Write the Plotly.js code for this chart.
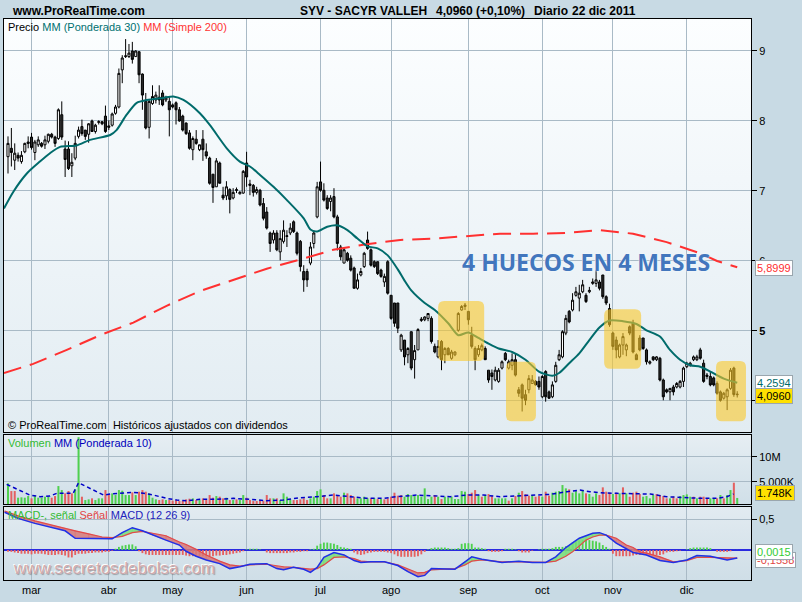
<!DOCTYPE html>
<html><head><meta charset="utf-8">
<script src="https://cdn.plot.ly/plotly-3.0.1.min.js"></script>
<style>html,body{margin:0;padding:0;background:#c8dae4;}#chart{width:802px;height:602px;}</style>
</head><body><div id="chart"></div>
<script>
// ---------- DATA ----------
const monthLabels = ['mar','abr','may','jun','jul','ago','sep','oct','nov','dic'];
const monthStart  = [7,30,49,71,93,114,137,159,180,202];   // trading-day index of first session of each month

const openP = [7.49,7.61,7.44,7.51,7.42,7.56,7.70,7.77,7.55,7.66,
 7.68,7.66,7.71,7.81,7.77,7.75,8.09,7.60,7.60,7.36,
 7.47,7.78,7.92,7.87,7.81,8.00,7.85,7.98,7.99,8.07,
 7.93,7.94,8.11,8.20,8.73,8.92,8.92,9.00,8.92,8.99,
 8.67,8.28,7.91,8.25,8.30,8.34,8.40,8.30,8.28,8.23,
 8.26,8.16,8.07,7.97,7.83,7.59,7.74,7.59,7.74,7.56,
 7.47,7.24,7.06,7.40,6.94,6.93,7.02,6.90,7.02,6.96,
 6.97,7.40,7.10,7.08,6.98,7.01,6.82,6.70,6.40,6.30,
 6.40,6.13,6.28,6.35,6.40,6.56,6.40,6.28,5.85,5.85,
 5.97,6.25,6.63,7.13,7.01,6.90,6.85,6.92,6.63,6.20,
 5.97,6.11,6.04,5.90,5.61,5.80,5.92,6.30,6.16,5.99,
 5.99,5.87,5.70,5.99,5.51,5.40,5.40,4.73,4.87,4.66,
 4.99,4.59,4.73,5.15,5.16,5.18,5.18,4.78,4.63,4.85,
 4.66,4.75,4.61,4.66,5.01,5.30,5.35,5.28,4.94,4.75,
 4.66,4.73,4.75,4.44,4.40,4.30,4.28,4.47,4.68,4.47,
 4.51,4.59,4.16,4.23,4.09,4.16,4.25,4.28,4.28,4.06,
 4.42,4.13,4.06,4.28,4.59,4.63,4.97,5.28,5.30,5.51,
 5.47,5.56,5.51,5.56,5.68,5.68,5.70,5.80,5.49,5.32,
 4.97,4.87,4.63,4.80,4.73,5.06,5.11,4.66,4.90,4.90,
 4.73,4.54,4.63,4.59,4.61,4.30,4.16,4.13,4.20,4.20,
 4.20,4.28,4.49,4.51,4.59,4.59,4.73,4.54,4.35,4.35,
 4.33,4.25,4.13,4.04,4.06,4.18,4.47,4.09];
const highP = [7.78,7.90,7.68,7.55,7.57,7.69,7.78,7.83,7.73,7.78,
 7.70,7.79,7.82,7.83,7.79,8.18,8.28,7.72,7.71,7.54,
 7.79,7.92,8.02,7.87,7.97,8.02,7.96,8.01,8.00,8.22,
 8.01,8.12,8.23,8.75,8.94,9.17,9.10,9.13,9.01,8.99,
 8.68,8.40,8.30,8.51,8.42,8.51,8.44,8.36,8.35,8.25,
 8.28,8.20,8.09,7.98,7.87,7.78,7.87,7.66,7.87,7.68,
 7.49,7.24,7.47,7.42,7.06,7.14,7.04,7.04,7.05,7.00,
 7.30,7.56,7.16,7.10,7.06,7.03,6.90,6.77,6.42,6.44,
 6.44,6.44,6.58,6.44,6.54,6.58,6.42,6.30,5.94,5.89,
 6.27,6.44,7.13,7.42,7.11,6.94,6.94,7.04,6.66,6.23,
 6.20,6.13,6.08,5.92,5.82,5.90,6.13,6.42,6.18,6.01,
 5.99,5.89,5.82,6.01,5.51,5.40,5.40,4.96,4.87,4.77,
 4.99,4.80,5.04,5.20,5.21,5.25,5.21,4.82,4.87,4.87,
 4.77,4.77,4.73,4.71,5.27,5.37,5.40,5.28,5.06,4.78,
 4.80,4.82,4.78,4.44,4.45,4.49,4.47,4.58,4.70,4.59,
 4.68,4.68,4.20,4.25,4.16,4.37,4.37,4.30,4.35,4.37,
 4.44,4.15,4.28,4.56,4.73,5.01,5.23,5.30,5.54,5.63,
 5.66,5.73,5.54,5.63,5.75,5.87,5.73,5.80,5.51,5.39,
 4.99,4.92,4.82,4.97,4.82,5.08,5.16,4.68,4.94,4.90,
 4.75,4.58,4.64,4.64,4.63,4.32,4.18,4.18,4.23,4.27,
 4.30,4.49,4.56,4.56,4.65,4.66,4.76,4.59,4.40,4.42,
 4.35,4.28,4.15,4.13,4.18,4.47,4.49,4.14];
const lowP = [7.25,7.35,7.30,7.42,7.39,7.54,7.61,7.59,7.44,7.63,
 7.62,7.60,7.68,7.75,7.63,7.73,7.73,7.20,7.30,7.20,
 7.44,7.75,7.79,7.73,7.69,7.85,7.82,7.95,7.94,7.83,
 7.87,7.92,8.09,8.18,8.54,8.90,8.90,8.82,8.92,8.54,
 8.16,7.88,7.75,8.23,8.25,8.23,8.21,8.27,7.78,8.18,
 7.95,7.99,7.85,7.80,7.59,7.44,7.66,7.57,7.43,7.46,
 7.09,6.83,7.06,7.11,6.87,6.87,6.68,6.88,6.97,6.95,
 6.96,7.06,6.94,6.92,6.95,6.78,6.58,6.45,6.13,6.25,
 6.14,6.01,6.25,6.20,6.37,6.40,6.08,5.85,5.56,5.63,
 5.94,6.18,6.61,6.99,6.85,6.73,6.71,6.61,6.15,6.01,
 5.97,5.99,5.85,5.61,5.59,5.78,5.90,6.16,5.92,5.90,
 5.80,5.76,5.63,5.52,5.16,5.06,4.97,4.70,4.51,4.54,
 4.44,4.32,4.73,5.13,5.14,5.14,4.82,4.68,4.61,4.44,
 4.54,4.66,4.59,4.64,4.99,5.29,5.30,5.09,4.75,4.44,
 4.63,4.71,4.59,4.26,4.16,4.28,4.26,4.45,4.57,4.45,
 4.44,4.35,4.06,3.85,3.94,4.11,4.25,4.22,4.16,4.04,
 3.99,4.03,4.04,4.26,4.57,4.61,4.94,5.11,5.28,5.49,
 5.28,5.54,5.40,5.54,5.66,5.63,5.58,5.46,5.37,5.06,
 4.73,4.61,4.61,4.66,4.64,4.94,4.68,4.59,4.71,4.73,
 4.52,4.52,4.57,4.57,4.28,4.01,4.11,4.01,4.08,4.18,
 4.18,4.20,4.47,4.49,4.57,4.57,4.59,4.26,4.31,4.21,
 4.21,4.09,3.99,4.02,3.87,4.16,4.06,4.05];
const closeP = [7.68,7.55,7.54,7.47,7.51,7.68,7.68,7.62,7.70,7.73,
 7.64,7.73,7.81,7.77,7.68,8.16,7.77,7.45,7.32,7.41,
 7.68,7.87,7.82,7.78,7.96,7.85,7.94,7.99,7.96,7.85,
 7.91,8.10,8.20,8.68,8.90,8.93,8.97,8.88,9.00,8.66,
 8.37,7.90,8.28,8.35,8.37,8.30,8.23,8.33,8.16,8.20,
 8.16,8.00,7.87,7.82,7.61,7.75,7.68,7.66,7.59,7.50,
 7.11,7.05,7.43,7.11,6.90,7.06,6.88,6.98,7.01,6.98,
 7.28,7.20,7.08,6.98,7.02,6.80,6.61,6.47,6.25,6.40,
 6.16,6.32,6.44,6.36,6.47,6.42,6.11,5.92,5.73,5.73,
 6.20,6.40,7.06,7.01,6.87,6.75,6.90,6.63,6.25,6.06,
 6.16,6.01,5.87,5.61,5.73,5.85,6.11,6.18,5.94,5.92,
 5.82,5.78,5.78,5.54,5.18,5.11,5.04,4.94,4.63,4.75,
 4.47,4.72,5.02,5.17,5.20,5.25,4.85,4.70,4.78,4.59,
 4.75,4.66,4.70,4.70,5.25,5.35,5.37,5.16,4.78,4.59,
 4.75,4.79,4.59,4.30,4.35,4.44,4.44,4.56,4.59,4.56,
 4.59,4.37,4.11,4.04,4.01,4.32,4.30,4.23,4.20,4.35,
 4.06,4.04,4.23,4.51,4.66,4.99,5.18,5.13,5.44,5.56,
 5.54,5.66,5.42,5.58,5.70,5.73,5.61,5.49,5.40,5.09,
 4.78,4.73,4.80,4.92,4.80,4.97,4.70,4.59,4.73,4.75,
 4.56,4.56,4.59,4.63,4.30,4.06,4.13,4.18,4.13,4.25,
 4.28,4.47,4.54,4.54,4.63,4.63,4.61,4.28,4.37,4.23,
 4.23,4.11,4.01,4.11,4.16,4.44,4.092,4.096];

// moving averages on price (sampled along the drawn lines)
const mm30Idx = [-1.2,1.6,5.6,9.5,12.5,15.5,20.4,24.4,30.4,32.3,35.3,38.3,41.3,46.2,49.2,52.2,57.1,60.1,65.1,69,72,75,79,83,88,90,92,95,98,101,104,107,110,113,116,118,120,124,127,131,134,137,140,143,146,150,154,158,162,164,167,170,173,176,179,183,187,190,194,197,200,203,206,209,213,217];
const mm30Val = [6.75,6.99,7.25,7.42,7.54,7.63,7.65,7.73,7.80,7.87,8.09,8.26,8.30,8.33,8.35,8.30,8.11,7.94,7.61,7.42,7.35,7.23,7.06,6.87,6.61,6.45,6.42,6.49,6.51,6.44,6.32,6.21,6.18,6.08,5.88,5.72,5.58,5.40,5.30,5.11,4.94,4.98,4.90,4.82,4.75,4.70,4.59,4.42,4.36,4.40,4.54,4.68,4.87,5.05,5.15,5.14,5.10,5.01,4.92,4.73,4.59,4.51,4.49,4.42,4.32,4.26];
const mm200Idx = [-1.2,7.5,17.5,27.4,37.3,47.2,57.1,67.1,77,86.9,96.8,106.7,116.7,126.6,136.5,146.4,156.3,166.2,176.2,181.1,186,196,206,211,217];
const mm200Val = [4.40,4.53,4.73,4.94,5.12,5.36,5.57,5.73,5.89,6.02,6.16,6.24,6.30,6.32,6.35,6.39,6.39,6.40,6.44,6.42,6.39,6.27,6.11,6.00,5.91];

// volume (millions) and up/down colour code per session
const volume = [4.67,3.13,3.13,1.8,1.87,1.8,2.13,1.67,2.13,1.8,
 1.8,2.0,2.0,1.8,2.13,4.13,3.33,2.67,3.13,2.67,
 3.47,13.9,2.0,1.33,1.47,1.67,1.33,1.67,1.67,3.33,
 2.33,2.67,2.33,3.33,3.2,2.33,2.33,2.87,2.33,3.0,
 3.33,3.0,2.67,1.8,1.47,1.33,1.47,1.33,1.33,1.2,
 1.33,1.13,1.2,1.47,1.6,1.67,1.33,1.33,1.67,1.33,
 2.33,1.8,2.13,2.0,1.67,1.8,1.33,1.33,1.47,1.33,
 2.33,1.8,1.33,1.13,1.13,1.33,1.2,2.33,1.67,1.67,
 1.67,1.33,2.67,2.0,1.47,1.33,1.33,1.47,1.67,1.33,
 1.67,2.0,3.13,3.47,2.33,1.67,1.67,2.67,2.2,2.0,
 2.8,2.67,2.33,2.0,1.67,1.67,2.0,1.67,1.67,1.67,
 1.53,1.53,1.47,1.67,2.0,2.8,2.2,2.33,2.0,2.53,
 2.33,2.13,2.33,2.0,3.67,1.53,2.0,2.33,2.0,1.53,
 2.0,1.87,2.0,1.53,1.53,3.13,3.0,2.53,2.8,3.33,
 2.33,2.0,2.33,2.53,2.13,1.67,1.67,1.67,1.67,1.2,
 1.67,2.13,2.8,3.13,2.53,2.2,2.33,2.0,2.13,2.0,
 3.0,2.2,2.8,3.0,3.13,4.33,3.67,3.47,2.8,3.13,
 2.67,3.33,2.67,2.53,2.0,2.67,2.33,3.87,3.0,2.8,
 2.53,2.8,2.67,3.87,2.67,2.0,2.8,3.0,2.53,2.0,
 2.13,1.67,2.33,2.53,2.33,2.13,1.67,1.67,2.0,1.67,
 2.13,2.33,2.47,2.0,2.0,1.67,2.0,2.0,1.67,1.67,
 1.67,1.67,2.33,1.67,2.33,3.33,4.8,1.748];
const volDir = 'GRRGGGGRGG'+'GGGRRGGRRR'+'GGRGGRGGGR'+'RGGGGGGRGR'+'RRGGGRRGRR'+
               'RRRRRGRGRR'+'RRGRRGRGRG'+'GRRRRRRRRG'+'RGGGGRRRRR'+'GGGGRRGRRR'+
               'GRRRGGGGRG'+'RGRRRRRRGG'+'GGGGGGGRGR'+'GGGGGGGRRR'+'GRGRRGGGGR'+
               'GRGRRRGRRG'+'RRGGGGGRGG'+'GGRGGGRRRR'+'GRGRGRRRRG'+'GGGRRRRGRR'+
               'GGGGRGRRRG'+'GRGRGGRG';
const volMaIdx = [-0.4,6.5,9.5,12.5,14.5,19.4,21,23.4,26.4,28.4,30.4,34.3,37.3,40.3,43.3,47.2,50.2,53.2,57.1,62.1,67.1,72,77,81.9,86.9,91.9,96.8,101.8,106.7,111.7,115.7,121.6,126.6,131.6,136.5,141.5,146.4,151.4,156.4,161.3,166.3,170.2,173.2,176.2,181.2,186.1,191.1,196,201,206,211,213.9,215.9];
const volMaVal = [4.47,2.33,2.0,2.13,2.67,2.67,4.8,4.0,3.0,2.33,2.53,2.8,2.87,2.67,2.33,1.67,1.33,1.2,1.47,1.47,1.67,1.47,1.2,1.33,1.8,2.0,2.33,2.0,1.67,1.67,2.0,2.33,2.2,2.0,2.33,2.33,2.0,2.13,2.2,2.47,3.0,3.33,3.0,2.8,2.67,2.67,2.53,2.0,1.8,1.67,1.67,2.0,2.53];

// MACD (12 26 9)
const macdIdx = [-1,3,8,13,17,20,24,28,31,34,37,40,43,47,51,53,56,59,63,66,69,72,77,80,82,85,88,90,92,94,97,100,103,105,108,112,116,119,122,124,126,130,133,136,138,141,144,147,152,156,160,163,166,168,170,172,174,176,178,181,184,186,188,190,194,198,202,205,209,214,217];
const macdVal = [0.61,0.51,0.43,0.37,0.31,0.19,0.19,0.19,0.18,0.28,0.36,0.31,0.24,0.16,0.08,-0.02,-0.10,-0.16,-0.22,-0.30,-0.27,-0.23,-0.22,-0.30,-0.32,-0.28,-0.31,-0.36,-0.28,-0.12,-0.04,-0.08,-0.17,-0.20,-0.19,-0.19,-0.25,-0.35,-0.43,-0.41,-0.30,-0.31,-0.31,-0.19,-0.11,-0.15,-0.17,-0.20,-0.18,-0.20,-0.20,-0.11,0.04,0.12,0.19,0.23,0.27,0.28,0.24,0.11,0.02,-0.04,-0.06,-0.08,-0.17,-0.20,-0.16,-0.09,-0.10,-0.16,-0.13];
const signalVal = [0.63,0.55,0.47,0.40,0.35,0.31,0.26,0.21,0.20,0.22,0.28,0.30,0.27,0.23,0.13,0.09,0.01,-0.08,-0.18,-0.24,-0.26,-0.24,-0.23,-0.26,-0.27,-0.28,-0.30,-0.31,-0.30,-0.24,-0.12,-0.11,-0.14,-0.18,-0.19,-0.19,-0.24,-0.31,-0.37,-0.36,-0.32,-0.31,-0.30,-0.24,-0.18,-0.16,-0.18,-0.19,-0.19,-0.19,-0.20,-0.18,-0.10,-0.03,0.06,0.16,0.21,0.24,0.24,0.19,0.08,0.04,-0.03,-0.05,-0.11,-0.19,-0.17,-0.12,-0.12,-0.13,-0.13];
const histVal = [-0.03,-0.03,-0.04,-0.05,-0.06,-0.06,-0.06,-0.07,-0.06,-0.06,
 -0.06,-0.07,-0.08,-0.08,-0.08,-0.07,-0.08,-0.09,-0.12,-0.12,
 -0.08,-0.06,-0.06,-0.06,-0.05,-0.05,-0.04,-0.04,-0.04,-0.03,
 -0.03,-0.01,0.02,0.05,0.07,0.08,0.09,0.09,0.06,-0.02,
 -0.05,-0.07,-0.08,-0.08,-0.08,-0.08,-0.08,-0.08,-0.08,-0.08,
 -0.08,-0.08,-0.08,-0.09,-0.10,-0.10,-0.10,-0.10,-0.10,-0.10,
 -0.10,-0.10,-0.09,-0.09,-0.08,-0.08,-0.07,-0.06,-0.05,-0.04,
 -0.02,0.01,0.02,0.02,0.02,0.01,0.0,-0.04,-0.05,-0.05,
 -0.05,-0.05,-0.05,-0.05,-0.04,-0.04,-0.03,-0.03,-0.02,-0.02,
 0.01,0.02,0.07,0.10,0.12,0.12,0.11,0.10,0.08,0.05,
 0.04,0.03,0.02,-0.04,-0.07,-0.08,-0.07,-0.05,-0.04,-0.03,
 -0.03,-0.03,-0.03,-0.04,-0.05,-0.07,-0.10,-0.11,-0.11,-0.11,
 -0.11,-0.11,-0.10,-0.07,-0.03,0.01,0.03,0.04,0.04,0.04,
 0.04,0.03,0.02,0.02,0.03,0.10,0.11,0.11,0.10,0.04,
 0.04,0.03,0.02,-0.02,-0.03,-0.03,-0.03,-0.02,0.02,0.02,
 0.02,0.01,-0.02,-0.04,-0.04,-0.04,-0.01,0.0,0.01,0.02,
 0.02,0.02,0.03,0.05,0.05,0.05,0.06,0.08,0.12,0.14,
 0.15,0.16,0.16,0.16,0.15,0.14,0.12,0.08,0.05,0.02,
 -0.06,-0.10,-0.10,-0.10,-0.10,-0.10,-0.09,-0.08,-0.08,-0.08,
 -0.08,-0.08,-0.08,-0.08,-0.08,-0.07,-0.04,-0.03,-0.03,-0.02,
 -0.01,0.0,0.01,0.03,0.04,0.04,0.04,0.04,0.04,0.03,
 0.0,-0.03,-0.03,-0.03,-0.03,-0.02,0.001,0.0015];

// ---------- DRAWING ----------
const W = 802, H = 602;
const px = x => x / W, py = y => 1 - y / H;
const days = closeP.map((_, k) => k);
const FONT = 'Liberation Sans, Arial, sans-serif';
const GRID = '#a9bac6';

function grad(top, bottom) {
  const svg = '<svg xmlns="http://www.w3.org/2000/svg" width="10" height="100" preserveAspectRatio="none">' +
    '<defs><linearGradient id="g" x1="0" y1="0" x2="0" y2="1"><stop offset="0" stop-color="' + top +
    '"/><stop offset="1" stop-color="' + bottom + '"/></linearGradient></defs>' +
    '<rect width="10" height="100" fill="url(#g)"/></svg>';
  return 'data:image/svg+xml;charset=utf-8,' + encodeURIComponent(svg);
}
function bg(src, x0, y0, x1, y1) {
  return {source: src, xref: 'paper', yref: 'paper', x: px(x0), y: py(y0), sizex: (x1 - x0) / W, sizey: (y1 - y0) / H,
          xanchor: 'left', yanchor: 'top', sizing: 'stretch', layer: 'below'};
}

// MACD/signal band fill split by sign
const gPoly = {x: [], y: []}, rPoly = {x: [], y: []};
function addPoly(o, xs, ys) { o.x.push(...xs, xs[0], null); o.y.push(...ys, ys[0], null); }
for (let k = 0; k < macdIdx.length - 1; k++) {
  const x0 = macdIdx[k], x1 = macdIdx[k + 1];
  const m0 = macdVal[k], m1 = macdVal[k + 1], s0 = signalVal[k], s1 = signalVal[k + 1];
  const d0 = m0 - s0, d1 = m1 - s1;
  if (d0 * d1 < 0) {
    const t = d0 / (d0 - d1), xc = x0 + t * (x1 - x0), yc = m0 + t * (m1 - m0);
    addPoly(d0 > 0 ? gPoly : rPoly, [x0, xc, x0], [m0, yc, s0]);
    addPoly(d1 > 0 ? gPoly : rPoly, [xc, x1, x1], [yc, m1, s1]);
  } else {
    addPoly((d0 + d1) >= 0 ? gPoly : rPoly, [x0, x1, x1, x0], [m0, m1, s1, s0]);
  }
}

const traces = [
  {type: 'candlestick', x: days, open: openP, high: highP, low: lowP, close: closeP, xaxis: 'x', yaxis: 'y',
   increasing: {line: {color: '#000', width: 1}, fillcolor: '#ffffff'},
   decreasing: {line: {color: '#000', width: 1}, fillcolor: '#2a2a2a'},
   whiskerwidth: 0, hoverinfo: 'skip', showlegend: false},
  {type: 'scatter', mode: 'lines', x: mm200Idx, y: mm200Val, xaxis: 'x', yaxis: 'y',
   line: {color: '#ff3030', width: 2, dash: '18px,9px'}, hoverinfo: 'skip', showlegend: false},
  {type: 'scatter', mode: 'lines', x: mm30Idx, y: mm30Val, xaxis: 'x', yaxis: 'y',
   line: {color: '#006b6b', width: 2, shape: 'spline', smoothing: 0.7}, hoverinfo: 'skip', showlegend: false},

  {type: 'bar', x: days, y: volume, xaxis: 'x2', yaxis: 'y2', width: 0.6,
   marker: {color: volume.map((_, k) => volDir[k] === 'G' ? '#4fd04f' : '#e46060'), line: {width: 0}},
   hoverinfo: 'skip', showlegend: false},
  {type: 'scatter', mode: 'lines', x: volMaIdx, y: volMaVal, xaxis: 'x2', yaxis: 'y2',
   line: {color: '#0000c8', width: 1.5, dash: '4px,3px'}, hoverinfo: 'skip', showlegend: false},

  {type: 'bar', x: days, y: histVal, xaxis: 'x3', yaxis: 'y3', width: 0.55,
   marker: {color: histVal.map(v => v >= 0 ? '#4fd04f' : '#e46060'), line: {width: 0}},
   hoverinfo: 'skip', showlegend: false},
  {type: 'scatter', mode: 'lines', x: gPoly.x, y: gPoly.y, xaxis: 'x3', yaxis: 'y3', fill: 'toself',
   fillcolor: 'rgba(120,222,120,0.85)', line: {width: 0.5, color: 'rgba(120,222,120,0.85)'}, hoverinfo: 'skip', showlegend: false},
  {type: 'scatter', mode: 'lines', x: rPoly.x, y: rPoly.y, xaxis: 'x3', yaxis: 'y3', fill: 'toself',
   fillcolor: 'rgba(214,120,120,0.85)', line: {width: 0.5, color: 'rgba(214,120,120,0.85)'}, hoverinfo: 'skip', showlegend: false},
  {type: 'scatter', mode: 'lines', x: macdIdx, y: signalVal, xaxis: 'x3', yaxis: 'y3',
   line: {color: '#e24a4a', width: 1.2}, hoverinfo: 'skip', showlegend: false},
  {type: 'scatter', mode: 'lines', x: macdIdx, y: macdVal, xaxis: 'x3', yaxis: 'y3',
   line: {color: '#2030e8', width: 1.5}, hoverinfo: 'skip', showlegend: false}
];

const xr = [-1.19, 221.1];
const xBase = {domain: [px(4), px(751)], range: xr, showgrid: true, gridcolor: GRID, gridwidth: 1,
  tickvals: monthStart, ticktext: monthLabels, showline: true, mirror: true, linecolor: '#000', linewidth: 1,
  zeroline: false, ticks: '', fixedrange: true};
const yBase = {side: 'right', showgrid: true, gridcolor: GRID, gridwidth: 1, ticks: 'outside', ticklen: 5,
  tickcolor: '#000', showline: true, mirror: true, linecolor: '#000', linewidth: 1, zeroline: false,
  tickfont: {family: FONT, size: 11, color: '#000'}, fixedrange: true};

function roundRect(i0, i1, p0, p1) {
  const rx = 6 / 3.36, ry = 6 / 70;
  return `M ${i0 + rx},${p1} L ${i1 - rx},${p1} Q ${i1},${p1} ${i1},${p1 - ry} L ${i1},${p0 + ry} Q ${i1},${p0} ${i1 - rx},${p0} ` +
         `L ${i0 + rx},${p0} Q ${i0},${p0} ${i0},${p0 + ry} L ${i0},${p1 - ry} Q ${i0},${p1} ${i0 + rx},${p1} Z`;
}
const boxStyle = {type: 'path', xref: 'x', yref: 'y', layer: 'above', fillcolor: 'rgba(250,200,40,0.6)', line: {width: 0}};

function lab(text, x, y, opts) {
  return Object.assign({text: text, xref: 'paper', yref: 'paper', x: px(x), y: py(y), xanchor: 'left', yanchor: 'middle',
    showarrow: false, font: {family: FONT, size: 11, color: '#000'}}, opts || {});
}
const boxed = (color, bgc) => ({bgcolor: bgc, bordercolor: '#9aa6ae', borderwidth: 1, borderpad: 1,
  font: {family: FONT, size: 11, color: color}});

const layout = {
  width: W, height: H, margin: {l: 0, r: 0, t: 0, b: 0},
  paper_bgcolor: '#c8dae4', plot_bgcolor: 'rgba(0,0,0,0)', showlegend: false, boxgap: 0.12,
  xaxis: Object.assign({}, xBase, {anchor: 'y', showticklabels: false, rangeslider: {visible: false}}),
  xaxis2: Object.assign({}, xBase, {anchor: 'y2', showticklabels: false, matches: 'x'}),
  xaxis3: Object.assign({}, xBase, {anchor: 'y3', showticklabels: true, matches: 'x',
    tickfont: {family: FONT, size: 11, color: '#000'}}),
  yaxis: Object.assign({}, yBase, {anchor: 'x', domain: [py(432), py(19)], range: [3.557, 9.457],
    tickvals: [4, 5, 6, 7, 8, 9], ticktext: ['', '<b>5</b>', '6', '7', '8', '9']}),
  yaxis2: Object.assign({}, yBase, {anchor: 'x2', domain: [py(504), py(435)], range: [0.54, 14.34],
    tickvals: [5, 10], ticktext: ['5.000K', '10M']}),
  yaxis3: Object.assign({}, yBase, {anchor: 'x3', domain: [py(580), py(507)], range: [-0.484, 0.694],
    tickvals: [0.5], ticktext: ['0,5'], zeroline: true, zerolinecolor: '#2a2ae0', zerolinewidth: 1.5}),
  images: [
    bg(grad('#fcfeff', '#e2ecf2'), 4, 19, 751, 432),
    bg(grad('#e6eef3', '#d0dfe8'), 4, 435, 751, 504),
    bg(grad('#e2ebf1', '#cfdee7'), 4, 507, 751, 580)
  ],
  shapes: [
    Object.assign({path: roundRect(128.0, 141.7, 4.57, 5.43)}, boxStyle),
    Object.assign({path: roundRect(148.2, 157.1, 3.71, 4.56)}, boxStyle),
    Object.assign({path: roundRect(177.4, 188.4, 4.46, 5.31)}, boxStyle),
    Object.assign({path: roundRect(210.7, 219.6, 3.71, 4.57)}, boxStyle)
  ],
  annotations: [
    lab('<b>www.ProRealTime.com</b>', 10, 11, {font: {family: FONT, size: 12, color: '#000'}}),
    lab('<b>SYV - SACYR VALLEH</b>', 298, 11, {font: {family: FONT, size: 12, color: '#000'}}),
    lab('<b>4,0960 (+0,10%)</b>', 434, 11, {font: {family: FONT, size: 12, color: '#000'}}),
    lab('<b>Diario</b>', 532, 11, {font: {family: FONT, size: 12, color: '#000'}}),
    lab('<b>22 dic 2011</b>', 570, 11, {font: {family: FONT, size: 12, color: '#000'}}),
    lab('Precio <span style="color:#007070">MM (Ponderada 30)</span> <span style="color:#ff3333">MM (Simple 200)</span>', 6, 27),
    lab('© ProRealTime.com  Históricos ajustados con dividendos', 6, 425),
    lab('<span style="color:#33bb33">Volumen</span> <span style="color:#0000bb">MM (Ponderada 10)</span>', 6, 443),
    lab('<span style="color:#33bb33">MACD-, señal</span> <span style="color:#e04444">Señal</span> <span style="color:#2222bb">MACD (12 26 9)</span>', 6, 515),
    lab('4 HUECOS EN 4 MESES', 586, 262, {xanchor: 'center',
      font: {family: 'Open Sans, sans-serif', size: 23, weight: 700, color: '#4276bd', shadow: '0 0 2px #ffffff, 0 0 1px #dde8f5'}}),
    lab('www.secretosdebolsa.com', 11, 568, {font: {family: FONT, size: 17, color: 'rgba(212,168,170,0.95)',
      shadow: '-1px -1px 0 #ffffff, 1px 1px 1px rgba(100,100,100,0.55)'}}),
    // right-hand value labels
    lab('5,8999', 755, 0, Object.assign({yref: 'y', y: 5.8999}, boxed('#ff3030', '#ffffff'))),
    lab('4,2594', 755, 0, Object.assign({yref: 'y', y: 4.2594}, boxed('#006b6b', '#ffffff'))),
    lab('4,0960', 755, 0, Object.assign({yref: 'y', y: 4.07}, boxed('#000000', '#ffe000'))),
    lab('1.748K', 755, 493, boxed('#000000', '#ffe000')),
    lab('-0,1558', 755, 560, boxed('#e04444', '#ffffff')),
    lab('0,0015', 755, 552, boxed('#33cc33', '#ffffff'))
  ]
};

Plotly.newPlot('chart', traces, layout, {displayModeBar: false, staticPlot: true});
</script>
</body></html>
